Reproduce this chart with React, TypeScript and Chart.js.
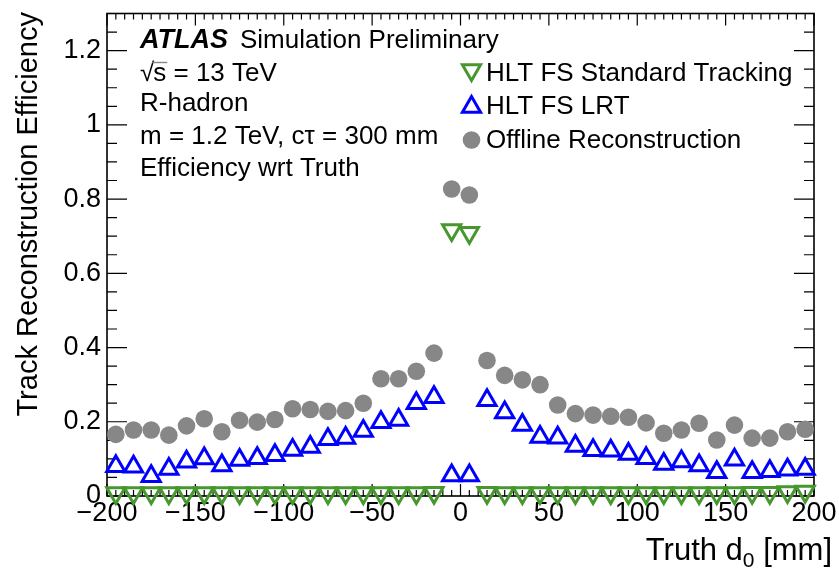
import { useEffect, useRef } from "react";
import { Chart, registerables } from "chart.js";

Chart.register(...registerables);

// Bin centres of the truth transverse impact parameter (mm)
const d0Bins = [
  -195, -185, -175, -165, -155, -145, -135, -125, -115, -105,
  -95, -85, -75, -65, -55, -45, -35, -25, -15, -5,
  5, 15, 25, 35, 45, 55, 65, 75, 85, 95,
  105, 115, 125, 135, 145, 155, 165, 175, 185, 195,
];

// HLT full-scan standard tracking efficiency
const hltStandard = [
  0.008, 0.008, 0.008, 0.008, 0.008, 0.008, 0.008, 0.008, 0.008, 0.008,
  0.008, 0.008, 0.008, 0.008, 0.008, 0.008, 0.008, 0.008, 0.009, 0.717,
  0.709, 0.009, 0.008, 0.008, 0.008, 0.008, 0.008, 0.008, 0.008, 0.008,
  0.008, 0.008, 0.008, 0.008, 0.008, 0.008, 0.009, 0.009, 0.011, 0.012,
];

// HLT full-scan large-radius tracking efficiency
const hltLrt = [
  0.080, 0.079, 0.053, 0.073, 0.092, 0.101, 0.082, 0.097, 0.102, 0.110,
  0.124, 0.132, 0.153, 0.156, 0.175, 0.199, 0.205, 0.250, 0.266, 0.055,
  0.055, 0.258, 0.225, 0.191, 0.159, 0.157, 0.135, 0.123, 0.122, 0.113,
  0.102, 0.086, 0.093, 0.082, 0.064, 0.098, 0.064, 0.067, 0.071, 0.073,
];

// Offline reconstruction efficiency
const offline = [
  0.166, 0.178, 0.178, 0.164, 0.189, 0.208, 0.173, 0.204, 0.199, 0.206,
  0.235, 0.233, 0.228, 0.230, 0.250, 0.316, 0.316, 0.336, 0.385, 0.827,
  0.811, 0.365, 0.325, 0.313, 0.300, 0.245, 0.222, 0.218, 0.215, 0.212,
  0.197, 0.169, 0.178, 0.196, 0.151, 0.191, 0.156, 0.156, 0.173, 0.180,
];

const xTickValues = [-200, -150, -100, -50, 0, 50, 100, 150, 200];
const yTickValues = [0, 0.2, 0.4, 0.6, 0.8, 1, 1.2];

const seriesNames = ["HLT FS Standard Tracking", "HLT FS LRT", "Offline Reconstruction"];
const infoLines = ["R-hadron", "m = 1.2 TeV, c\u03c4 = 300 mm", "Efficiency wrt Truth"];

const FONT = '"Liberation Sans", Arial, Helvetica, sans-serif';
const GREEN = "#46982e";
const BLUE = "#0000ff";
const GREY = "#878787";

const X_MINOR_STEP = 5;
const Y_MINOR_STEP = 0.05;

const TRI_RADIUS = 10.5;
const TRI_STROKE = 3;
const DOT_RADIUS = 8.8;

// Inward-pointing ticks on all four sides plus the frame
const frameTicks = {
  id: "frameTicks",
  beforeDatasetsDraw(chart: any) {
    const { ctx, chartArea: a, scales } = chart;
    const xs = scales.x;
    const ys = scales.y;
    ctx.save();
    ctx.strokeStyle = "#000";
    ctx.lineWidth = 1.2;
    ctx.beginPath();
    const nx = Math.round((xs.max - xs.min) / X_MINOR_STEP);
    for (let i = 0; i <= nx; i++) {
      const v = xs.min + i * X_MINOR_STEP;
      const px = xs.getPixelForValue(v);
      const len = Math.abs(v % 50) < 1e-9 ? 12 : 6;
      ctx.moveTo(px, a.bottom);
      ctx.lineTo(px, a.bottom - len);
      ctx.moveTo(px, a.top);
      ctx.lineTo(px, a.top + len);
    }
    const ny = Math.round((ys.max - ys.min) / Y_MINOR_STEP);
    for (let i = 0; i <= ny; i++) {
      const v = ys.min + i * Y_MINOR_STEP;
      const py = ys.getPixelForValue(v);
      const len = i % 4 === 0 ? 20 : 10;
      ctx.moveTo(a.left, py);
      ctx.lineTo(a.left + len, py);
      ctx.moveTo(a.right, py);
      ctx.lineTo(a.right - len, py);
    }
    ctx.stroke();
    ctx.lineWidth = 1.6;
    ctx.strokeRect(a.left, a.top, a.right - a.left, a.bottom - a.top);
    ctx.restore();
  },
};

function drawMarker(ctx: CanvasRenderingContext2D, kind: string, x: number, y: number) {
  ctx.save();
  if (kind === "circle") {
    ctx.fillStyle = GREY;
    ctx.beginPath();
    ctx.arc(x, y, DOT_RADIUS, 0, Math.PI * 2);
    ctx.fill();
  } else {
    const r = TRI_RADIUS;
    const dir = kind === "down" ? -1 : 1;
    ctx.strokeStyle = kind === "down" ? GREEN : BLUE;
    ctx.lineWidth = TRI_STROKE;
    ctx.beginPath();
    ctx.moveTo(x, y - dir * r);
    ctx.lineTo(x + r * Math.sin(Math.PI / 3), y + dir * r / 2);
    ctx.lineTo(x - r * Math.sin(Math.PI / 3), y + dir * r / 2);
    ctx.closePath();
    ctx.stroke();
  }
  ctx.restore();
}

// Labels, legend and axis titles
const annotations = {
  id: "annotations",
  afterDraw(chart: any) {
    const { ctx } = chart;
    ctx.save();
    ctx.fillStyle = "#000";
    ctx.textBaseline = "alphabetic";
    ctx.textAlign = "left";

    const x0 = 140;
    ctx.font = `italic bold 27px ${FONT}`;
    ctx.fillText("ATLAS", x0, 48);
    const wAtlas = ctx.measureText("ATLAS").width;
    ctx.font = `26px ${FONT}`;
    ctx.fillText("Simulation Preliminary", x0 + wAtlas + 12, 48);

    // sqrt(s) with an overbar
    ctx.font = `26px ${FONT}`;
    const wRoot = ctx.measureText("\u221a").width;
    ctx.fillText("\u221a", x0, 81);
    ctx.fillText("s = 13 TeV", x0 + wRoot - 1, 81);
    const wS = ctx.measureText("s").width;
    ctx.lineWidth = 1.4;
    ctx.beginPath();
    ctx.moveTo(x0 + wRoot - 2, 62.5);
    ctx.lineTo(x0 + wRoot + wS, 62.5);
    ctx.stroke();

    infoLines.forEach((t, i) => ctx.fillText(t, x0, 111 + i * 32.5));

    // legend
    const kinds = ["down", "up", "circle"];
    const rows = [81, 114, 148];
    seriesNames.forEach((name, i) => {
      drawMarker(ctx, kinds[i], 471.5, rows[i] - 9 + (kinds[i] === "up" ? 2 : kinds[i] === "down" ? -2 : 1));
      ctx.fillStyle = "#000";
      ctx.font = `26px ${FONT}`;
      ctx.fillText(name, 486, rows[i]);
    });

    // y-axis title
    ctx.save();
    ctx.font = `29px ${FONT}`;
    ctx.translate(37, 12);
    ctx.rotate(-Math.PI / 2);
    ctx.textAlign = "right";
    ctx.fillText("Track Reconstruction Efficiency", 0, 0);
    ctx.restore();

    // x-axis title with subscript
    ctx.font = `31px ${FONT}`;
    const partA = "Truth d";
    const partC = " [mm]";
    const wA = ctx.measureText(partA).width;
    const wC = ctx.measureText(partC).width;
    ctx.font = `21px ${FONT}`;
    const wB = ctx.measureText("0").width;
    const right = 832;
    const startX = right - wA - wB - wC;
    ctx.font = `31px ${FONT}`;
    ctx.fillText(partA, startX, 560);
    ctx.fillText(partC, startX + wA + wB, 560);
    ctx.font = `21px ${FONT}`;
    ctx.fillText("0", startX + wA, 567);
    ctx.restore();
  },
};

function toPoints(values: number[]) {
  return d0Bins.map((x, i) => ({ x, y: values[i] }));
}

export default function App() {
  const canvasRef = useRef<HTMLCanvasElement | null>(null);

  useEffect(() => {
    const canvas = canvasRef.current;
    if (!canvas) return;
    const chart = new Chart(canvas, {
      type: "scatter",
      data: {
        datasets: [
          {
            label: seriesNames[2],
            data: toPoints(offline),
            pointStyle: "circle",
            pointRadius: DOT_RADIUS,
            pointBackgroundColor: GREY,
            pointBorderWidth: 0,
            borderColor: GREY,
            clip: false,
          } as any,
          {
            label: seriesNames[1],
            data: toPoints(hltLrt),
            pointStyle: "triangle",
            pointRadius: TRI_RADIUS,
            pointBackgroundColor: "rgba(0,0,0,0)",
            pointBorderColor: BLUE,
            pointBorderWidth: TRI_STROKE,
            clip: false,
          } as any,
          {
            label: seriesNames[0],
            data: toPoints(hltStandard),
            pointStyle: "triangle",
            rotation: 180,
            pointRadius: TRI_RADIUS,
            pointBackgroundColor: "rgba(0,0,0,0)",
            pointBorderColor: GREEN,
            pointBorderWidth: TRI_STROKE,
            clip: false,
          } as any,
        ],
      },
      options: {
        animation: false,
        responsive: true,
        maintainAspectRatio: false,
        layout: { padding: { left: 0, right: 25, top: 11, bottom: 0 } },
        plugins: {
          legend: { display: false },
          tooltip: { enabled: false },
        },
        scales: {
          x: {
            type: "linear",
            min: -200,
            max: 200,
            grid: { display: false, drawTicks: false },
            border: { display: false },
            ticks: {
              color: "#000",
              font: { family: FONT, size: 27 },
              padding: 1,
              maxRotation: 0,
              autoSkip: false,
              callback: (v: any) => (Number(v) < 0 ? "\u2212" + Math.abs(Number(v)) : String(v)),
            },
            afterBuildTicks: (s: any) => {
              s.ticks = xTickValues.map((value) => ({ value }));
            },
            afterFit: (s: any) => {
              s.height = 74;
              s.paddingLeft = 0;
              s.paddingRight = 0;
            },
          },
          y: {
            type: "linear",
            min: 0,
            max: 1.3,
            grid: { display: false, drawTicks: false },
            border: { display: false },
            ticks: {
              color: "#000",
              font: { family: FONT, size: 27 },
              padding: 6,
              autoSkip: false,
              callback: (v: any) => String(Math.round(Number(v) * 10) / 10),
            },
            afterBuildTicks: (s: any) => {
              s.ticks = yTickValues.map((value) => ({ value }));
            },
            afterFit: (s: any) => {
              s.width = 107;
              s.paddingTop = 0;
              s.paddingBottom = 0;
            },
          },
        },
      },
      plugins: [frameTicks, annotations],
    });
    return () => chart.destroy();
  }, []);

  return (
    <div style={{ position: "fixed", left: 0, top: 0, width: 839, height: 570, background: "#fff" }}>
      <canvas ref={canvasRef} />
    </div>
  );
}
